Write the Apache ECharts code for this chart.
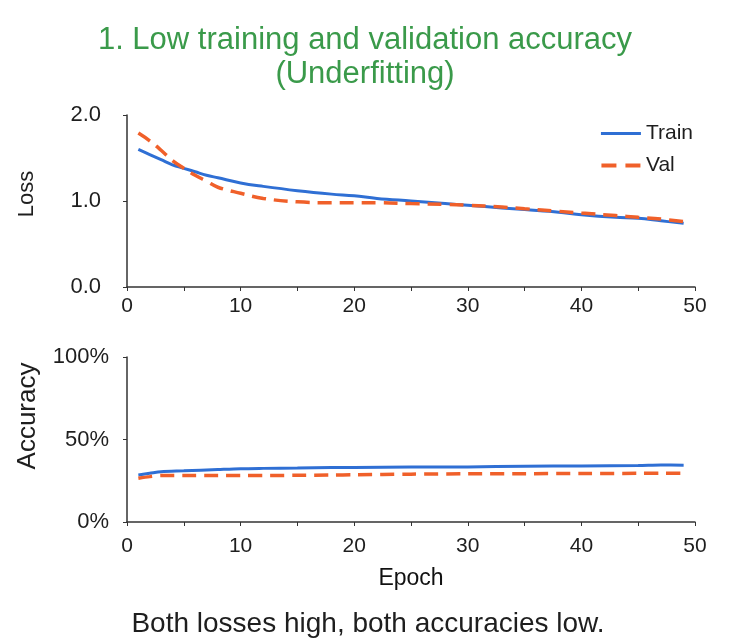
<!DOCTYPE html>
<html>
<head>
<meta charset="utf-8">
<title>Underfitting</title>
<script src="https://cdn.jsdelivr.net/npm/echarts@6/dist/echarts.min.js"></script>
<style>
  html, body { margin: 0; padding: 0; background: #fff; }
  #chart { width: 730px; height: 640px; }
</style>
</head>
<body>
<div id="chart"></div>
<script>
// values
var lossEpochs = [1, 2, 3, 4, 5, 6, 7, 8, 10, 12, 15, 18, 20, 22, 25, 28, 30, 33, 35, 38, 40, 43, 45, 47, 49];
var trainLoss = [1.60, 1.54, 1.48, 1.42, 1.38, 1.34, 1.30, 1.27, 1.21, 1.17, 1.12, 1.08, 1.06, 1.03, 1.00, 0.97, 0.95, 0.92, 0.90, 0.87, 0.84, 0.81, 0.80, 0.77, 0.74];
var valLoss = [1.79, 1.70, 1.59, 1.47, 1.38, 1.30, 1.23, 1.16, 1.09, 1.03, 0.99, 0.98, 0.98, 0.98, 0.97, 0.96, 0.95, 0.93, 0.91, 0.88, 0.86, 0.83, 0.81, 0.79, 0.76];

var accEpochs = [1, 2, 3, 5, 8, 10, 12, 15, 18, 20, 25, 30, 35, 40, 45, 47, 49];
var trainAcc = [28.5, 29.5, 30.5, 31.0, 31.8, 32.3, 32.5, 32.7, 33.0, 33.1, 33.3, 33.4, 33.8, 34.0, 34.2, 34.5, 34.4];
var valAcc = [26.5, 27.5, 28.2, 28.2, 28.2, 28.2, 28.2, 28.3, 28.5, 28.6, 29.0, 29.2, 29.3, 29.4, 29.5, 29.6, 29.6];

var seriesNames = ['Train', 'Val'];
var titleText = '1. Low training and validation accuracy\n(Underfitting)';
var captionText = 'Both losses high, both accuracies low.';

var blue = '#2f6fd4';
var orange = '#f0602a';
var axisColor = '#333';
var textColor = '#1e1e1e';
var font = 'Liberation Sans';

function pairs(xs, ys) {
    return xs.map(function (x, i) { return [x, ys[i]]; });
}

function xAxisFor(grid, margin) {
    return {
        gridIndex: grid, type: 'value', min: 0, max: 50, interval: 10,
        axisLine: { lineStyle: { color: axisColor, width: 1.5 } },
        axisTick: { show: true, length: 4, lineStyle: { color: axisColor } },
        minorTick: { show: true, splitNumber: 2, length: 4, lineStyle: { color: axisColor } },
        axisLabel: { color: textColor, fontSize: 21, fontFamily: font, margin: margin },
        splitLine: { show: false }
    };
}

function yAxisFor(grid, max, interval, margin, fmt) {
    return {
        gridIndex: grid, type: 'value', min: 0, max: max, interval: interval,
        axisLine: { show: true, lineStyle: { color: axisColor, width: 1.5 } },
        axisTick: { show: true, length: 4, lineStyle: { color: axisColor } },
        axisLabel: { color: textColor, fontSize: 22, fontFamily: font, margin: margin, formatter: fmt },
        splitLine: { show: false }
    };
}

var myChart = echarts.init(document.getElementById('chart'));
myChart.setOption({
    backgroundColor: '#fff',
    animation: false,
    title: [
        {
            text: titleText, left: 360, top: 18, textAlign: 'center',
            textStyle: { color: '#3a9a4a', fontSize: 31, fontWeight: 'normal', fontFamily: font, lineHeight: 34 }
        },
        {
            text: captionText, left: 363, top: 605, textAlign: 'center',
            textStyle: { color: textColor, fontSize: 28, fontWeight: 'normal', fontFamily: font }
        }
    ],
    graphic: [
        {
            type: 'text', x: 27, y: 194, rotation: Math.PI / 2,
            style: { text: 'Loss', fill: textColor, font: '22px "Liberation Sans"', align: 'center', verticalAlign: 'middle' }
        },
        {
            type: 'text', x: 28, y: 416, rotation: Math.PI / 2,
            style: { text: 'Accuracy', fill: textColor, font: '26px "Liberation Sans"', align: 'center', verticalAlign: 'middle' }
        }
    ],
    legend: {
        data: [
            { name: seriesNames[0], icon: 'path://M0,0H40V3H0Z' },
            { name: seriesNames[1], icon: 'path://M0,0H15V4H0ZM24,0H39V4H24Z' }
        ],
        orient: 'vertical', right: 32, top: 118,
        itemWidth: 40, itemHeight: 4, itemGap: 11,
        textStyle: { color: textColor, fontSize: 21, fontFamily: font }
    },
    grid: [
        { left: 127, right: 35, top: 115, height: 172 },
        { left: 127, right: 35, top: 357, height: 165 }
    ],
    xAxis: [
        xAxisFor(0, 9),
        Object.assign(xAxisFor(1, 14), {
            name: 'Epoch', nameLocation: 'middle', nameGap: 45,
            nameTextStyle: { color: '#111', fontSize: 23, fontFamily: font }
        })
    ],
    yAxis: [
        yAxisFor(0, 2, 1, 26, function (v) { return v.toFixed(1); }),
        yAxisFor(1, 100, 50, 18, '{value}%')
    ],
    series: [
        {
            name: 'Train', type: 'line', xAxisIndex: 0, yAxisIndex: 0,
            data: pairs(lossEpochs, trainLoss), smooth: 0.4, symbol: 'none',
            lineStyle: { color: blue, width: 3 }, itemStyle: { color: blue }, z: 2
        },
        {
            name: 'Val', type: 'line', xAxisIndex: 0, yAxisIndex: 0,
            data: pairs(lossEpochs, valLoss), smooth: 0.4, symbol: 'none',
            lineStyle: { color: orange, width: 3.5, type: [14, 8] }, itemStyle: { color: orange }, z: 3
        },
        {
            name: 'Train', type: 'line', xAxisIndex: 1, yAxisIndex: 1,
            data: pairs(accEpochs, trainAcc), smooth: 0.3, symbol: 'none',
            lineStyle: { color: blue, width: 3 }, itemStyle: { color: blue }, z: 2
        },
        {
            name: 'Val', type: 'line', xAxisIndex: 1, yAxisIndex: 1,
            data: pairs(accEpochs, valAcc), smooth: 0.3, symbol: 'none',
            lineStyle: { color: orange, width: 3.5, type: [14, 8] }, itemStyle: { color: orange }, z: 3
        }
    ]
});
</script>
</body>
</html>
